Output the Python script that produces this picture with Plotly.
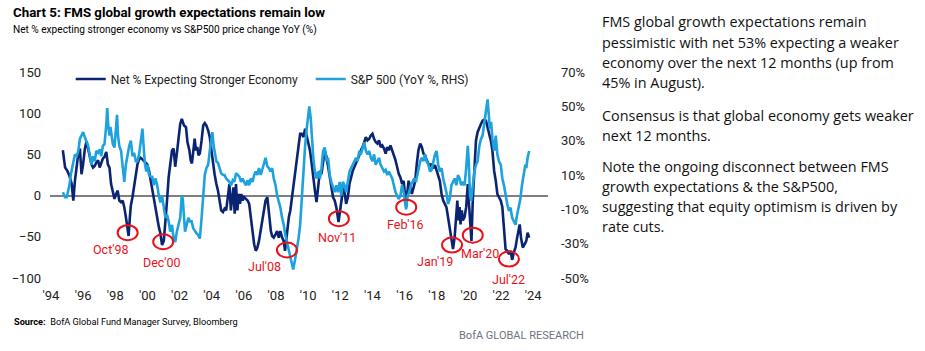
import plotly.graph_objects as go

# ---------------- data ----------------
net_x = [1994.74, 1994.88, 1995.02, 1995.15, 1995.29, 1995.39, 1995.49, 1995.60, 1995.70, 1995.80,
         1995.90, 1996.00, 1996.11, 1996.21, 1996.31, 1996.41, 1996.52, 1996.62, 1996.72, 1996.82,
         1996.93, 1997.03, 1997.13, 1997.23, 1997.33, 1997.44, 1997.54, 1997.64, 1997.74, 1997.85,
         1997.95, 1998.05, 1998.15, 1998.25, 1998.36, 1998.46, 1998.56, 1998.66, 1998.77, 1998.83,
         1998.91, 1998.97, 1999.07, 1999.17, 1999.28, 1999.38, 1999.48, 1999.58, 1999.69, 1999.79,
         1999.89, 1999.99, 2000.10, 2000.20, 2000.30, 2000.40, 2000.50, 2000.61, 2000.71, 2000.81,
         2000.91, 2001.02, 2001.12, 2001.22, 2001.32, 2001.42, 2001.53, 2001.63, 2001.73, 2001.83,
         2001.93, 2002.04, 2002.14, 2002.28, 2002.40, 2002.49, 2002.61, 2002.69, 2002.77, 2002.85,
         2002.94, 2003.02, 2003.10, 2003.18, 2003.26, 2003.37, 2003.47, 2003.57, 2003.67, 2003.78,
         2003.88, 2003.98, 2004.08, 2004.18, 2004.29, 2004.39, 2004.49, 2004.59, 2004.70, 2004.80,
         2004.90, 2005.00, 2005.10, 2005.19, 2005.27, 2005.35, 2005.43, 2005.51, 2005.60, 2005.68,
         2005.76, 2005.84, 2005.92, 2006.02, 2006.13, 2006.23, 2006.33, 2006.43, 2006.54, 2006.64,
         2006.74, 2006.84, 2006.94, 2007.05, 2007.15, 2007.25, 2007.35, 2007.46, 2007.52, 2007.60,
         2007.68, 2007.76, 2007.86, 2007.97, 2008.07, 2008.17, 2008.27, 2008.38, 2008.48, 2008.56,
         2008.64, 2008.72, 2008.80, 2008.89, 2008.99, 2009.09, 2009.19, 2009.30, 2009.40, 2009.50,
         2009.60, 2009.71, 2009.81, 2009.91, 2010.01, 2010.11, 2010.22, 2010.32, 2010.42, 2010.52,
         2010.63, 2010.73, 2010.83, 2010.93, 2011.03, 2011.14, 2011.24, 2011.34, 2011.44, 2011.55,
         2011.65, 2011.75, 2011.89, 2011.99, 2012.10, 2012.16, 2012.26, 2012.36, 2012.47, 2012.57,
         2012.67, 2012.77, 2012.88, 2012.98, 2013.08, 2013.18, 2013.28, 2013.39, 2013.49, 2013.59,
         2013.69, 2013.80, 2013.90, 2014.00, 2014.10, 2014.20, 2014.31, 2014.41, 2014.51, 2014.61,
         2014.72, 2014.82, 2014.92, 2015.02, 2015.12, 2015.23, 2015.33, 2015.43, 2015.53, 2015.64,
         2015.74, 2015.84, 2015.94, 2016.03, 2016.10, 2016.18, 2016.25, 2016.35, 2016.45, 2016.56,
         2016.66, 2016.76, 2016.86, 2016.97, 2017.07, 2017.17, 2017.27, 2017.37, 2017.48, 2017.58,
         2017.68, 2017.78, 2017.89, 2017.99, 2018.09, 2018.19, 2018.30, 2018.40, 2018.50, 2018.60,
         2018.70, 2018.81, 2018.91, 2019.01, 2019.11, 2019.22, 2019.28, 2019.34, 2019.42, 2019.48,
         2019.56, 2019.62, 2019.73, 2019.83, 2019.93, 2019.99, 2020.07, 2020.16, 2020.24, 2020.30,
         2020.36, 2020.44, 2020.54, 2020.65, 2020.75, 2020.85, 2020.95, 2021.06, 2021.16, 2021.26,
         2021.36, 2021.46, 2021.57, 2021.67, 2021.77, 2021.87, 2021.98, 2022.08, 2022.18, 2022.28,
         2022.39, 2022.49, 2022.59, 2022.69, 2022.79, 2022.90, 2023.00, 2023.10, 2023.16, 2023.24,
         2023.35, 2023.47, 2023.57, 2023.65, 2023.75]
net_y = [55, 34, 30, 24, 14, -6, 18, 38, 51, 57,
         26, 38, 57, 66, 58, 47, 38, 34, 36, 40,
         43, 34, 40, 45, 47, 53, 38, 34, 14, 6,
         -4, 2, 6, -6, -8, -6, -14, -26, -42, -49,
         -26, -12, -2, 10, 26, 38, 44, 46, 44, 42,
         40, 38, 30, 18, 6, -6, -18, -26, -38, -46,
         -60, -55, -34, -6, 22, 38, 55, 57, 35, 51,
         71, 87, 93, 85, 83, 65, 55, 43, 39, 53,
         69, 55, 59, 49, 51, 67, 85, 88, 85, 79,
         71, 55, 39, 26, 14, 6, -6, -18, -20, -16,
         -18, 2, 14, -18, -2, 10, -22, 14, -18, 2,
         -10, 2, -6, -2, -4, -6, -10, -26, -43, -59,
         -67, -63, -55, -43, -30, -22, -6, -2, -14, -35,
         -43, -49, -51, -47, -43, -51, -43, -51, -55, -67,
         -51, -39, -26, -18, -2, 14, 25, 45, 61, 75,
         75, 71, 81, 73, 65, 55, 39, 18, 6, -8,
         10, 30, 26, 43, 55, 47, 35, 26, 14, -2,
         -6, -14, -32, -18, -2, 14, 6, -10, -2, 14,
         22, 30, 35, 39, 43, 49, 55, 59, 65, 71,
         67, 69, 73, 75, 69, 65, 63, 67, 59, 61,
         57, 51, 59, 55, 61, 55, 51, 43, 35, 26,
         22, 14, 18, 2, -14, 6, 18, 10, 2, 10,
         18, 39, 55, 63, 59, 51, 49, 43, 39, 35,
         39, 33, 37, 30, 26, 18, 2, -6, -10, -14,
         -26, -39, -51, -65, -51, -26, -6, -30, -14, -35,
         -18, -30, -26, -14, 14, -6, -35, -55, -6, 22,
         47, 67, 77, 83, 87, 91, 92, 91, 83, 75,
         67, 55, 30, 18, 2, -2, -6, -14, -43, -65,
         -67, -71, -67, -78, -69, -63, -51, -39, -35, -51,
         -63, -59, -55, -45, -51]

spx_x = [1994.74, 1994.88, 1994.98, 1995.15, 1995.23, 1995.35, 1995.49, 1995.60, 1995.70, 1995.80,
         1995.90, 1996.00, 1996.11, 1996.21, 1996.31, 1996.41, 1996.52, 1996.62, 1996.72, 1996.82,
         1996.93, 1997.03, 1997.13, 1997.23, 1997.33, 1997.44, 1997.50, 1997.56, 1997.64, 1997.70,
         1997.78, 1997.85, 1997.95, 1998.05, 1998.11, 1998.17, 1998.25, 1998.36, 1998.46, 1998.56,
         1998.66, 1998.77, 1998.87, 1998.97, 1999.07, 1999.17, 1999.28, 1999.38, 1999.48, 1999.58,
         1999.69, 1999.77, 1999.85, 1999.93, 2000.01, 2000.10, 2000.20, 2000.30, 2000.40, 2000.50,
         2000.61, 2000.71, 2000.81, 2000.91, 2001.02, 2001.12, 2001.22, 2001.32, 2001.42, 2001.53,
         2001.63, 2001.73, 2001.83, 2001.93, 2002.04, 2002.14, 2002.20, 2002.34, 2002.45, 2002.55,
         2002.65, 2002.75, 2002.85, 2002.96, 2003.06, 2003.16, 2003.26, 2003.37, 2003.47, 2003.57,
         2003.67, 2003.78, 2003.88, 2003.98, 2004.04, 2004.12, 2004.20, 2004.29, 2004.39, 2004.49,
         2004.59, 2004.70, 2004.80, 2004.90, 2005.00, 2005.10, 2005.21, 2005.31, 2005.41, 2005.51,
         2005.62, 2005.72, 2005.82, 2005.92, 2006.02, 2006.13, 2006.23, 2006.33, 2006.43, 2006.54,
         2006.64, 2006.74, 2006.84, 2006.94, 2007.05, 2007.15, 2007.25, 2007.35, 2007.46, 2007.56,
         2007.66, 2007.76, 2007.86, 2007.97, 2008.07, 2008.17, 2008.27, 2008.38, 2008.48, 2008.58,
         2008.68, 2008.79, 2008.89, 2008.99, 2009.07, 2009.19, 2009.30, 2009.40, 2009.50, 2009.60,
         2009.71, 2009.81, 2009.91, 2010.01, 2010.07, 2010.16, 2010.22, 2010.32, 2010.42, 2010.52,
         2010.63, 2010.73, 2010.83, 2010.93, 2011.03, 2011.14, 2011.24, 2011.34, 2011.44, 2011.55,
         2011.65, 2011.75, 2011.85, 2011.96, 2012.06, 2012.16, 2012.26, 2012.36, 2012.47, 2012.57,
         2012.67, 2012.77, 2012.88, 2012.98, 2013.08, 2013.18, 2013.28, 2013.39, 2013.49, 2013.59,
         2013.69, 2013.80, 2013.90, 2014.00, 2014.10, 2014.20, 2014.31, 2014.41, 2014.51, 2014.61,
         2014.72, 2014.82, 2014.92, 2015.02, 2015.12, 2015.23, 2015.33, 2015.43, 2015.53, 2015.64,
         2015.74, 2015.84, 2015.94, 2016.09, 2016.19, 2016.29, 2016.39, 2016.50, 2016.60, 2016.70,
         2016.80, 2016.86, 2016.97, 2017.07, 2017.17, 2017.27, 2017.37, 2017.48, 2017.58, 2017.68,
         2017.78, 2017.89, 2017.99, 2018.09, 2018.19, 2018.30, 2018.40, 2018.50, 2018.60, 2018.70,
         2018.81, 2018.91, 2019.01, 2019.11, 2019.22, 2019.32, 2019.42, 2019.52, 2019.62, 2019.73,
         2019.83, 2019.93, 2019.99, 2020.07, 2020.14, 2020.24, 2020.34, 2020.44, 2020.54, 2020.65,
         2020.75, 2020.85, 2020.95, 2021.06, 2021.16, 2021.22, 2021.30, 2021.38, 2021.46, 2021.57,
         2021.67, 2021.77, 2021.87, 2021.98, 2022.08, 2022.18, 2022.28, 2022.39, 2022.49, 2022.59,
         2022.69, 2022.79, 2022.90, 2023.00, 2023.10, 2023.20, 2023.30, 2023.41, 2023.51, 2023.57,
         2023.65, 2023.75]
spx_y = [0, -3, -3, 4, 10, 16, 22, 21, 24, 31,
         33, 35, 32, 29, 27, 22, 16, 21, 18, 24,
         23, 25, 21, 27, 28, 39, 49, 39, 33, 38,
         31, 28, 26, 37, 45, 33, 27, 24, 16, 6,
         16, 22, 27, 30, 21, 23, 18, 18, 22, 29,
         37, 26, 16, 12, 16, 10, 9, 9, 4, 8,
         4, -2, -6, -2, -9, -15, -13, -17, -23, -19,
         -27, -29, -23, -19, -15, -2, -4, -23, -19, -15,
         -17, -17, -21, -23, -24, -25, -27, -15, 0, 10,
         14, 16, 24, 31, 35, 27, 22, 18, 17, 14,
         11, 10, 10, 8, 7, 6, 4, 7, 6, 11,
         10, 9, 6, 8, 6, 4, 7, 4, 8, 6,
         10, 12, 10, 14, 10, 13, 16, 20, 15, 14,
         12, 14, 8, 4, -2, -5, -9, -15, -19, -25,
         -29, -35, -39, -42, -45, -39, -33, -27, -19, -2,
         14, 27, 37, 45, 50, 43, 31, 20, 12, 8,
         12, 8, 14, 24, 26, 18, 20, 10, 6, 2,
         0, 4, 0, 6, -2, 6, 4, 0, 6, 12,
         14, 16, 18, 20, 18, 24, 22, 26, 29, 24,
         22, 24, 20, 18, 22, 16, 18, 20, 16, 14,
         12, 13, 10, 12, 10, 8, 4, 0, -2, -4,
         -2, 4, 0, -10, -2, 0, 4, 6, 8, 6,
         10, 14, 18, 20, 18, 22, 18, 16, 12, 13,
         18, 22, 24, 16, 12, 14, 8, 4, 0, -7,
         -4, 4, 6, 8, 4, 10, 8, 4, 6, 4,
         14, 27, 18, -2, -5, 4, 12, 16, 18, 27,
         31, 33, 39, 47, 54, 47, 37, 41, 31, 24,
         33, 22, 18, 16, 8, 4, -2, -7, -11, -9,
         -15, -17, -19, -13, -9, -4, 4, 12, 16, 14,
         20, 24]

xtick_vals = list(range(1994, 2025, 2))
xtick_text = ["'%02d" % (v % 100) for v in xtick_vals]
left_ticks = [-100, -50, 0, 50, 100, 150]
right_ticks = [-50, -30, -10, 10, 30, 50, 70]
right_tick_text = ["%d%%" % v for v in right_ticks]

trough_labels = ["Oct'98", "Dec'00", "Jul'08", "Nov'11", "Feb'16", "Jan'19", "Mar'20", "Jul'22"]
trough_x = [1998.77, 2000.98, 2008.68, 2011.91, 2016.10, 2018.95, 2020.24, 2022.49]
trough_y = [-45, -56, -66, -28, -14, -60, -48, -77]
label_dx = [-17, -1, -22, -2, -1, -17, 7, 0]
label_dy = [17, 21, 17, 19, 17, 16, 18, 20]

comment_lines = [
    "FMS global growth expectations remain",
    "pessimistic with net 53% expecting a weaker",
    "economy over the next 12 months (up from",
    "45% in August).",
    "Consensus is that global economy gets weaker",
    "next 12 months.",
    "Note the ongoing disconnect between FMS",
    "growth expectations &amp; the S&amp;P500,",
    "suggesting that equity optimism is driven by",
    "rate cuts.",
]
comment_line_y = [21.7, 42.3, 62.5, 82, 115, 135.3, 166.7, 186.7, 206.7, 226.7]

# ---------------- layout geometry ----------------
W, H = 925, 351
PL, PR, PT, PB = 43, 548, 72, 278
FONT = "Roboto, Arial, sans-serif"
NAVY = "#0A2473"
LIGHT = "#1EA2DD"
RED = "#E8121B"


def px(xp):
    return (xp - PL) / (PR - PL)


def py(yp):
    return (PB - yp) / (PB - PT)


fig = go.Figure()
fig.add_trace(go.Scatter(x=net_x, y=net_y, mode="lines", name="Net % Expecting Stronger Economy",
                         line=dict(color=NAVY, width=2.6)))
fig.add_trace(go.Scatter(x=spx_x, y=spx_y, mode="lines", name="S&P 500 (YoY %, RHS)",
                         line=dict(color=LIGHT, width=2.6), yaxis="y2"))

shapes = []
annotations = []
for lab, tx, ty, dx, dy in zip(trough_labels, trough_x, trough_y, label_dx, label_dy):
    shapes.append(dict(type="circle", xref="x", yref="y", xsizemode="pixel", ysizemode="pixel",
                       xanchor=tx, yanchor=ty, x0=-10, x1=10, y0=-7.5, y1=7.5,
                       line=dict(color=RED, width=2)))
    annotations.append(dict(x=tx, y=ty, xref="x", yref="y", text=lab, showarrow=False,
                            xshift=dx, yshift=-dy, font=dict(family=FONT, size=12.5, color=RED)))

# titles
annotations.append(dict(x=px(3), y=py(13), xref="paper", yref="paper", xanchor="left", yanchor="middle",
                        text="<b>Chart 5: FMS global growth expectations remain low</b>", showarrow=False,
                        font=dict(family=FONT, size=13.3, color="#000000")))
annotations.append(dict(x=px(3), y=py(30), xref="paper", yref="paper", xanchor="left", yanchor="middle",
                        text="Net % expecting stronger economy vs S&P500 price change YoY (%)", showarrow=False,
                        font=dict(family=FONT, size=10.1, color="#000000")))
# source / footer
annotations.append(dict(x=px(4), y=py(321), xref="paper", yref="paper", xanchor="left", yanchor="middle",
                        text="<b>Source:</b>  BofA Global Fund Manager Survey, Bloomberg", showarrow=False,
                        font=dict(family=FONT, size=9.2, color="#000000")))
annotations.append(dict(x=px(587), y=py(335.5), xref="paper", yref="paper", xanchor="right", yanchor="middle",
                        text="BofA GLOBAL RESEARCH", showarrow=False,
                        font=dict(family=FONT, size=11, color="#6D7380")))

# commentary on the right, one annotation per line
for txt, ycen in zip(comment_lines, comment_line_y):
    annotations.append(dict(x=px(601), y=py(ycen), xref="paper", yref="paper", xanchor="left",
                            yanchor="middle", align="left", text=txt, showarrow=False,
                            font=dict(family="Open Sans, Arial, sans-serif", size=14.4, color="#111111")))

fig.update_layout(
    width=W, height=H, autosize=False,
    margin=dict(l=PL, r=W - PR, t=PT, b=H - PB, pad=0),
    paper_bgcolor="white", plot_bgcolor="white",
    font=dict(family=FONT, size=13, color="#222222"),
    showlegend=True,
    legend=dict(orientation="h", x=px(64), y=py(79), xanchor="left", yanchor="middle",
                bgcolor="rgba(0,0,0,0)", font=dict(family=FONT, size=12, color="#222222"),
                entrywidth=195, entrywidthmode="pixels", tracegroupgap=0, itemwidth=30),
    xaxis=dict(range=[1993.94, 2024.92], tickvals=xtick_vals, ticktext=xtick_text, showgrid=False,
               zeroline=False, showline=False, ticks="", ticklabelstandoff=8,
               tickfont=dict(family=FONT, size=13, color="#222222")),
    yaxis=dict(range=[-100, 150], tickvals=left_ticks, showgrid=False, zeroline=True,
               zerolinecolor="#7F7F7F", zerolinewidth=1.5, showline=False, ticks="",
               ticklabelstandoff=8, tickfont=dict(family=FONT, size=13, color="#222222")),
    yaxis2=dict(range=[-50, 70], tickvals=right_ticks, ticktext=right_tick_text, overlaying="y",
                side="right", showgrid=False, zeroline=False, showline=False, ticks="",
                ticklabelstandoff=12, tickfont=dict(family=FONT, size=13, color="#222222")),
    shapes=shapes,
    annotations=annotations,
)

fig.write_html("out.html")
